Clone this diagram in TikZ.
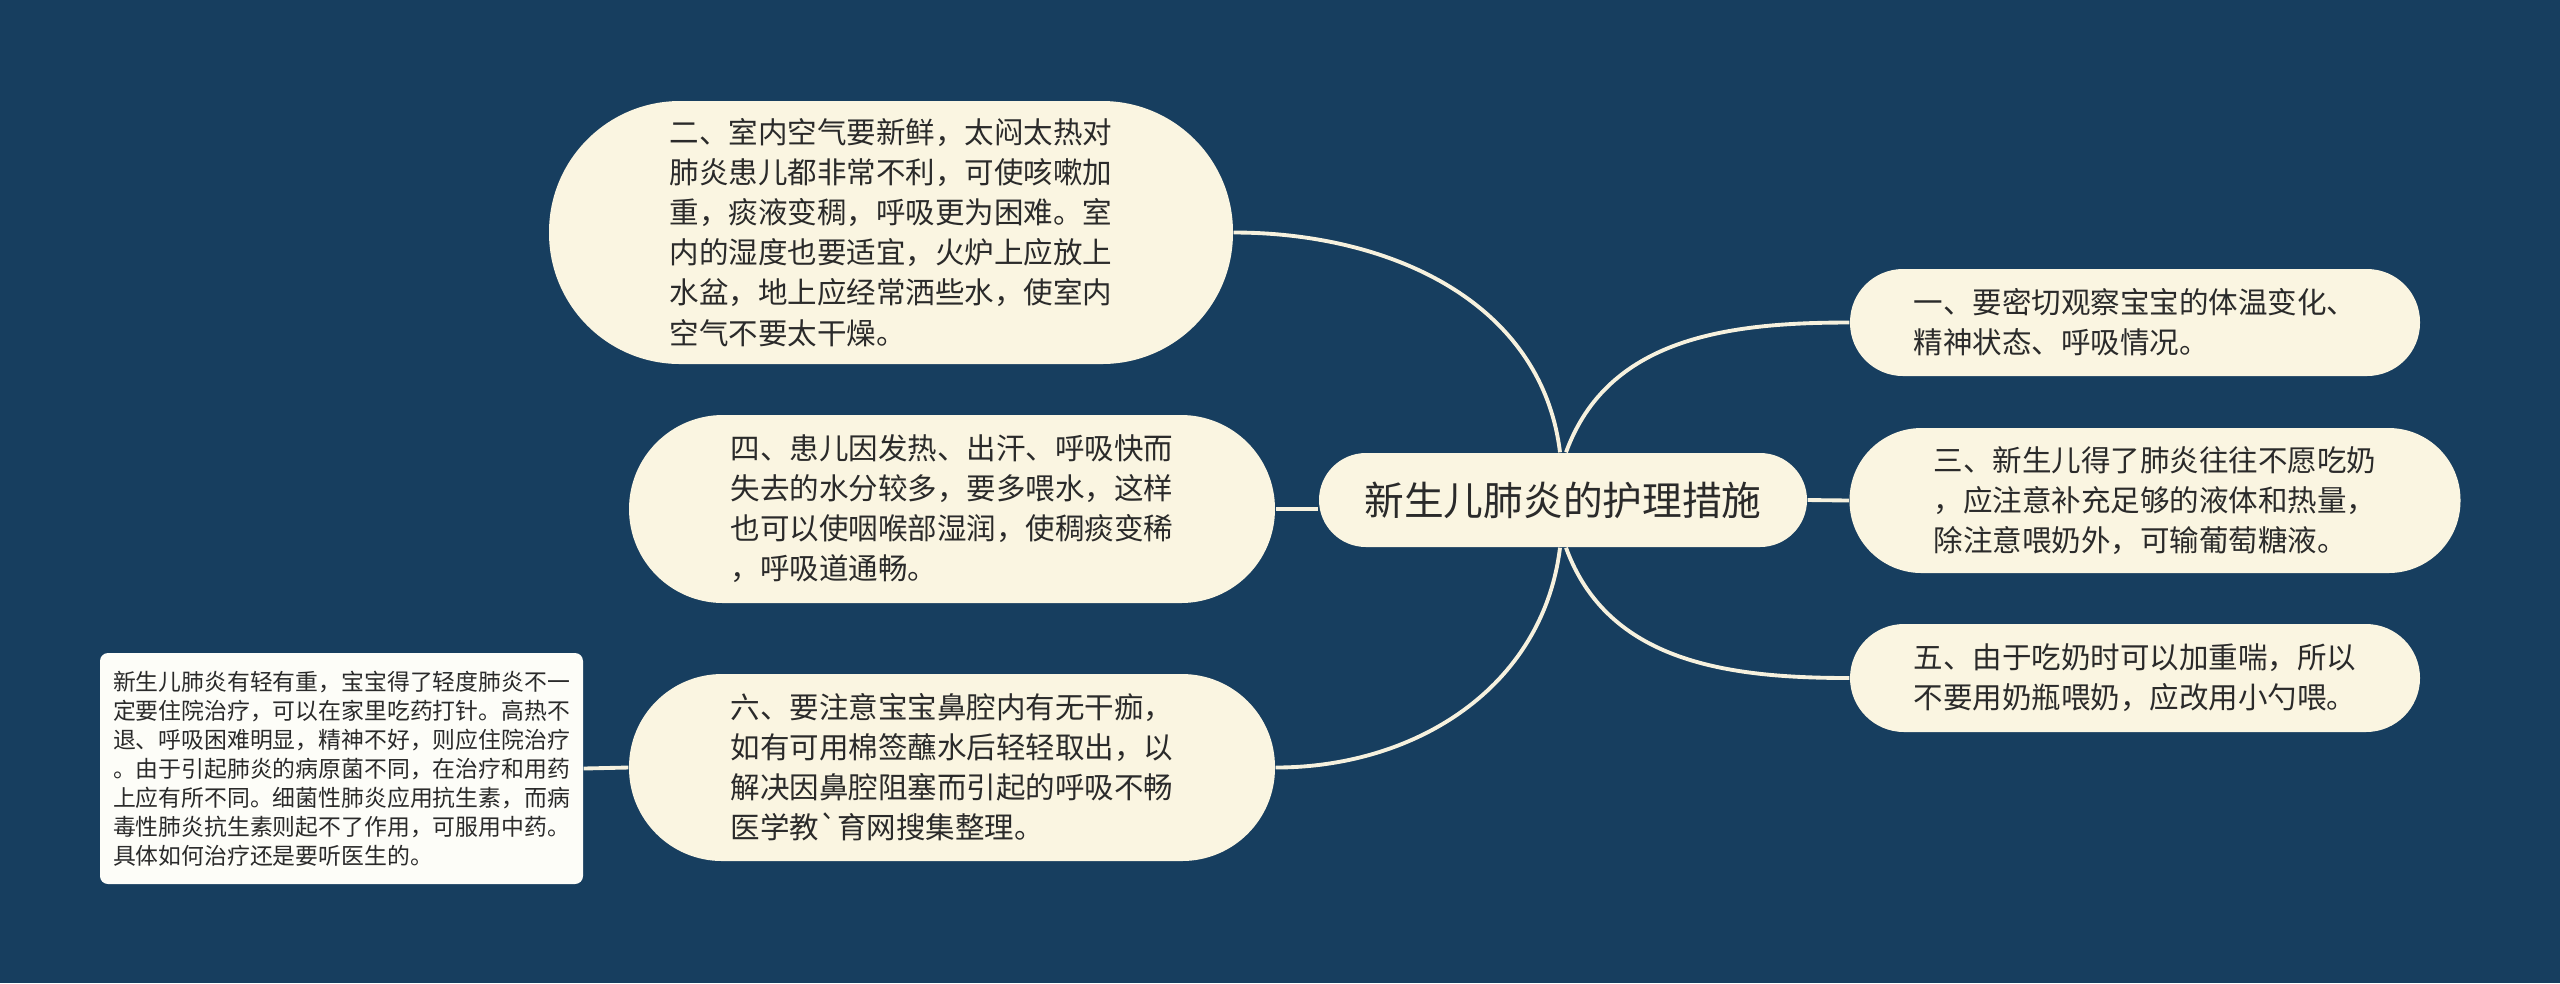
\documentclass[tikz,border=0pt]{standalone}
\usepackage{fontspec}
\setmainfont{Noto Sans CJK SC}
\definecolor{fond}{HTML}{173E5F}
\definecolor{creme}{HTML}{FAF5E1}
\definecolor{blanc}{HTML}{FDFDF8}
\definecolor{trait}{HTML}{F6F1DE}
\definecolor{encre}{HTML}{2A2A2A}
\tikzset{
  bulle/.style={fill=creme,text=encre,align=left,inner sep=0pt,
    font=\fontsize{8.4}{11.4}\selectfont},
  remarque/.style={bulle,fill=blanc,rounded corners=.08cm,
    font=\fontsize{6.5}{8.25}\selectfont},
  lien/.style={draw=trait,line width=1.1pt}
}
\begin{document}
\begin{tikzpicture}[scale=1]
\fill[fond] (0,0) rectangle (25.6,-9.83);
\node[bulle,minimum width=4.88cm,minimum height=.94cm,rounded corners=.47cm,
  font=\fontsize{11.3}{14}\selectfont] (racine) at (15.63,-5) {新生儿肺炎的护理措施};
\node[bulle,minimum width=6.84cm,minimum height=2.63cm,rounded corners=1.31cm] (deux) at (8.91,-2.325)
  {二、室内空气要新鲜，太闷太热对\\肺炎患儿都非常不利，可使咳嗽加\\重，痰液变稠，呼吸更为困难。室\\内的湿度也要适宜，火炉上应放上\\水盆，地上应经常洒些水，使室内\\空气不要太干燥。};
\node[bulle,minimum width=6.46cm,minimum height=1.88cm,rounded corners=.94cm] (quatre) at (9.52,-5.09)
  {四、患儿因发热、出汗、呼吸快而\\失去的水分较多，要多喂水，这样\\也可以使咽喉部湿润，使稠痰变稀\\，呼吸道通畅。};
\node[bulle,minimum width=6.46cm,minimum height=1.87cm,rounded corners=.93cm] (six) at (9.52,-7.675)
  {六、要注意宝宝鼻腔内有无干痂，\\如有可用棉签蘸水后轻轻取出，以\\解决因鼻腔阻塞而引起的呼吸不畅\\医学教\textasciigrave 育网搜集整理。};
\node[remarque,minimum width=4.83cm,minimum height=2.31cm] (note) at (3.415,-7.685)
  {新生儿肺炎有轻有重，宝宝得了轻度肺炎不一\\定要住院治疗，可以在家里吃药打针。高热不\\退、呼吸困难明显，精神不好，则应住院治疗\\。由于引起肺炎的病原菌不同，在治疗和用药\\上应有所不同。细菌性肺炎应用抗生素，而病\\毒性肺炎抗生素则起不了作用，可服用中药。\\具体如何治疗还是要听医生的。};
\node[bulle,minimum width=5.7cm,minimum height=1.07cm,rounded corners=.53cm] (un) at (21.35,-3.225)
  {一、要密切观察宝宝的体温变化、\\精神状态、呼吸情况。};
\node[bulle,minimum width=6.11cm,minimum height=1.45cm,rounded corners=.72cm] (trois) at (21.55,-5.005)
  {三、新生儿得了肺炎往往不愿吃奶\\，应注意补充足够的液体和热量，\\除注意喂奶外，可输葡萄糖液。};
\node[bulle,minimum width=5.7cm,minimum height=1.08cm,rounded corners=.54cm] (cinq) at (21.35,-6.78)
  {五、由于吃奶时可以加重喘，所以\\不要用奶瓶喂奶，应改用小勺喂。};
\draw[lien] ([xshift=-.03cm]racine.north) to[out=97,in=0] (deux.east);
\draw[lien] (quatre.east) -- (quatre.east -| racine.west);
\draw[lien] ([xshift=-.03cm]racine.south) to[out=-97,in=0] (six.east);
\draw[lien] (note.east) -- (six.west);
\draw[lien] ([xshift=.03cm]racine.north) to[out=70,in=180] (un.west);
\draw[lien] (racine.east) -- (trois.west);
\draw[lien] ([xshift=.03cm]racine.south) to[out=-70,in=180] (cinq.west);
\end{tikzpicture}
\end{document}
